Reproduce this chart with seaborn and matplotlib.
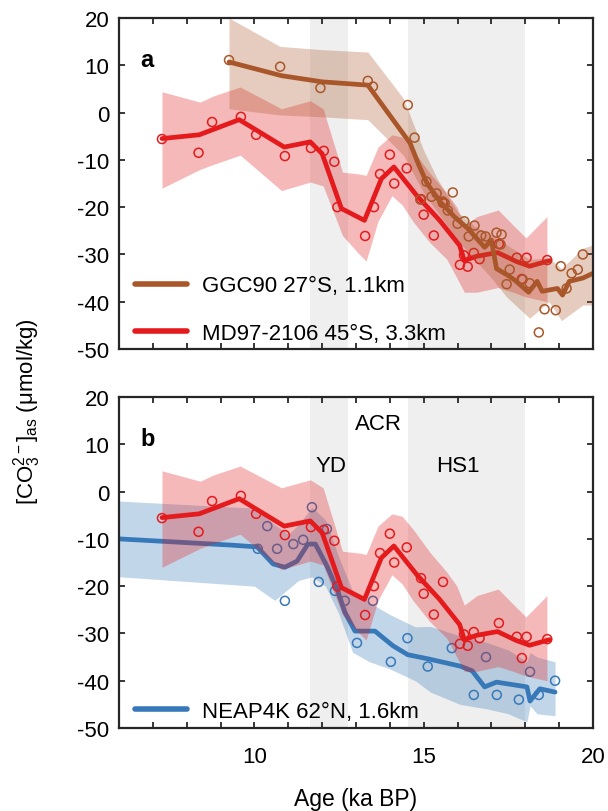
import numpy as np
import pandas as pd
import matplotlib
matplotlib.use("Agg")
import matplotlib.pyplot as plt
from matplotlib.lines import Line2D
from matplotlib.ticker import FixedLocator, MultipleLocator
import seaborn as sns

# ---------------- data ----------------
# GGC90 (27°S, 1.1 km): smoothed curve, uncertainty envelope, measurements
ggc90_line_age = [9.25, 10.8, 12.0, 13.35, 14.6, 14.85, 15.1, 15.5, 15.9, 16.3, 16.8, 17.0,
                  17.15, 17.5, 17.7, 18.1, 18.35, 18.5, 18.95, 19.1, 19.3, 19.7, 20.0]
ggc90_line_val = [10.7, 7.8, 6.5, 5.8, -6.5, -11, -15, -19, -22, -24.5, -28.5, -27,
                  -33, -34.5, -35.5, -38, -35.7, -37.8, -37.2, -38.6, -35.7, -35, -34]
ggc90_band_age = [9.25, 10.75, 12.0, 13.35, 14.4, 15.0, 15.4, 16.0, 16.5, 17.0, 17.45,
                  18.13, 18.7, 19.07, 19.7, 20.0]
ggc90_band_hi = [20, 14, 13.3, 12.8, 3, -8, -14, -21, -24, -26, -28, -31, -30.8, -33, -28.7, -28]
ggc90_band_lo = [0.8, -0.5, -0.9, -1.5, -9, -17, -21, -27, -31, -35, -39, -43.5, -40, -44, -40.7, -40.7]
ggc90_pts_age = [9.25, 10.76, 11.95, 13.35, 13.5, 14.53, 14.73, 14.9, 15.08, 15.23, 15.38,
                 15.56, 15.62, 15.71, 15.86, 16.0, 16.2, 16.33, 16.5, 16.7, 16.83, 17.15,
                 17.3, 17.27, 17.45, 17.54, 17.92, 18.13, 18.4, 18.57, 18.9, 19.05, 19.22,
                 19.37, 19.55, 19.7]
ggc90_pts_val = [11.1, 9.7, 5.2, 6.7, 5.5, 1.6, -5.3, -18.4, -14.6, -17.8, -17.1,
                 -18.8, -19.2, -20.7, -16.9, -23.5, -23, -26.2, -23.9, -26, -26.2, -25.4,
                 -25.8, -27.9, -36.3, -33.2, -35.3, -36.1, -46.5, -41.6, -41.8, -32.5, -37.2,
                 -34, -33.2, -30]

# MD97-2106 (45°S, 3.3 km)
md97_line_age = [7.27, 8.37, 9.55, 10.88, 11.65, 12.0, 12.33, 12.57, 13.25, 13.75, 14.12,
                 14.8, 15.47, 16.06, 16.2, 16.56, 17.18, 17.74, 18.13, 18.72]
md97_line_val = [-5.5, -4.7, -1.5, -7.3, -6.2, -8.7, -15.4, -20.3, -22.8, -14, -11.5,
                 -17.6, -22.8, -28.1, -31.3, -30.4, -29.6, -31.5, -32.5, -31.3]
md97_band_age = [7.27, 8.4, 8.78, 9.58, 10.8, 11.65, 12.03, 12.33, 12.6, 13.1, 13.3, 13.65,
                 14.06, 14.36, 14.68, 15.18, 15.68, 15.98, 16.2, 16.57, 17.2, 17.64, 18.02, 18.64]
md97_band_hi = [4.4, 2.2, 3.5, 5.4, 0.8, 2.5, 0.8, -6.2, -12.6, -13, -13.3, -7.3,
                -4.7, -5.2, -7.9, -12.8, -17, -20, -24, -22, -20.6, -23.8, -26.5, -22]
md97_band_lo = [-16, -12, -11, -9, -16.5, -14.7, -15.5, -21, -26, -30, -31.4, -23,
                -17.6, -19.5, -23, -27.5, -31, -35, -38, -38, -37, -38, -39, -40]
md97_pts_age = [7.27, 8.35, 8.75, 9.6, 10.05, 10.9, 11.67, 12.05, 12.36, 12.45, 13.27, 13.53,
                13.71, 14.0, 14.13, 14.5, 14.92, 15.0, 15.3, 15.57, 16.07, 16.19, 16.3, 16.48,
                16.65, 17.22, 17.75, 17.9, 18.04, 18.65]
md97_pts_val = [-5.6, -8.5, -2, -0.9, -4.7, -9.2, -7.5, -8.1, -10.4, -20, -26.1, -20,
                -13, -8.9, -15, -11.8, -18.3, -21.6, -26, -19.1, -32.2, -30.2, -32.6, -29.7,
                -31, -27.8, -30.7, -35.2, -30.7, -31.2]

# NEAP4K (62°N, 1.6 km)
neap_line_age = [6.0, 9.28, 10.08, 10.55, 10.9, 11.26, 11.58, 11.8, 12.14, 12.44, 12.67,
                 12.97, 13.56, 14.09, 14.53, 15.15, 16.07, 16.43, 16.8, 17.15, 18.05, 18.14,
                 18.43, 18.88]
neap_line_val = [-10, -11.3, -11.7, -15.3, -16, -14.7, -11.1, -11.1, -15.7, -20.6, -25.5,
                 -29.5, -29.5, -32.6, -34.5, -35.4, -36.9, -37.9, -41.3, -40.3, -41.3, -44.3,
                 -41.7, -42.4]
neap_band_age = [6.0, 10.0, 10.6, 11.0, 11.3, 11.7, 12.1, 12.5, 12.9, 13.4, 14.0, 14.75,
                 15.2, 16.07, 16.9, 17.5, 18.05, 18.14, 18.35, 18.88]
neap_band_hi = [-2, -3.5, -7, -9, -7, -3.3, -6, -14, -21, -23.5, -26, -28.6,
                -28.5, -30.5, -32, -33.5, -36, -34, -35, -36]
neap_band_lo = [-18, -20, -23, -20.6, -18.8, -18, -20, -26, -34, -36, -37.5, -40,
                -42.4, -45, -46, -47, -48.7, -45.3, -47, -47.4]
neap_pts_age = [10.1, 10.38, 10.67, 10.9, 11.15, 11.44, 11.7, 11.9, 12.14, 12.38, 12.67,
                13.03, 13.5, 14.03, 14.52, 15.12, 15.83, 16.48, 16.84, 17.16, 17.81, 18.14,
                18.4, 18.88]
neap_pts_val = [-12.1, -7.3, -12.1, -23.1, -11.1, -10.2, -3.3, -19.1, -7.9, -21, -23.1,
                -32, -23.1, -36, -31, -37, -33.1, -43, -35, -43, -44, -38.1,
                -43, -40]

# climate intervals (ka BP)
yd_span = (11.65, 12.75)
hs1_span = (14.55, 18.0)
period_labels = ["YD", "ACR", "HS1"]
period_label_age = [12.27, 13.66, 16.0]
period_label_val = [5.6, 14.5, 5.6]

ggc90_label = "GGC90 27°S, 1.1km"
md97_label = "MD97-2106 45°S, 3.3km"
neap_label = "NEAP4K 62°N, 1.6km"

# ---------------- style ----------------
sns.set_theme(style="ticks")
plt.rcParams["font.family"] = ["Liberation Sans", "DejaVu Sans"]
plt.rcParams["axes.unicode_minus"] = False
plt.rcParams["text.color"] = "black"
plt.rcParams["axes.labelcolor"] = "black"
plt.rcParams["mathtext.fontset"] = "custom"
plt.rcParams["mathtext.rm"] = "Liberation Sans"
plt.rcParams["mathtext.it"] = "Liberation Sans:italic"
plt.rcParams["mathtext.bf"] = "Liberation Sans:bold"

C_BROWN = "#A9572A"
C_RED = "#E41A1C"
C_BLUE = "#3778B8"
C_SPAN = "#EFEFEF"
C_AX = "#262626"
FS = 16
LW = 3.4


def series(age, val):
    return pd.DataFrame({"age": age, "val": val})


def draw_record(ax, line_age, line_val, band_age, band_hi, band_lo, pts_age, pts_val,
                color, zb):
    ax.fill_between(band_age, band_lo, band_hi, color=color, alpha=0.3, lw=0, zorder=zb)
    sns.lineplot(data=series(line_age, line_val), x="age", y="val", ax=ax, sort=False,
                 estimator=None, color=color, lw=LW, zorder=zb + 0.2, legend=False)
    sns.scatterplot(data=series(pts_age, pts_val), x="age", y="val", ax=ax, marker="o",
                    s=42, facecolors="none", edgecolor=color, linewidth=1.1,
                    zorder=zb + 0.1, legend=False)


def style_axes(ax, show_xlabels):
    ax.set_xlim(6, 20)
    ax.set_ylim(-50, 20)
    ax.axvspan(*yd_span, color=C_SPAN, lw=0, zorder=0)
    ax.axvspan(*hs1_span, color=C_SPAN, lw=0, zorder=0)
    ax.xaxis.set_major_locator(FixedLocator([10, 15, 20]))
    ax.xaxis.set_minor_locator(MultipleLocator(1))
    ax.yaxis.set_major_locator(MultipleLocator(10))
    ax.tick_params(which="both", direction="in", top=True, right=True, length=4.5,
                   width=1.3, color=C_AX, labelsize=FS, labelcolor="black")
    ax.tick_params(axis="y", pad=7)
    ax.tick_params(axis="x", pad=13)
    if not show_xlabels:
        ax.tick_params(axis="x", labelbottom=False)
    for sp in ax.spines.values():
        sp.set_visible(True)
        sp.set_linewidth(1.6)
        sp.set_color(C_AX)
        sp.set_zorder(10)
    ax.set_xlabel("")
    ax.set_ylabel("")


fig = plt.figure(figsize=(6.08, 8.12), dpi=100)
ax_a = fig.add_axes([0.1957, 0.569, 0.7796, 0.4076])
ax_b = fig.add_axes([0.1957, 0.1022, 0.7796, 0.4076])

# panel a
draw_record(ax_a, md97_line_age, md97_line_val, md97_band_age, md97_band_hi, md97_band_lo,
            md97_pts_age, md97_pts_val, C_RED, 2)
draw_record(ax_a, ggc90_line_age, ggc90_line_val, ggc90_band_age, ggc90_band_hi, ggc90_band_lo,
            ggc90_pts_age, ggc90_pts_val, C_BROWN, 3)
style_axes(ax_a, False)
ax_a.text(0.045, 0.875, "a", transform=ax_a.transAxes, fontsize=FS + 1, fontweight="bold",
          ha="left", va="center")
handles_a = [Line2D([], [], color=C_BROWN, lw=LW + 0.6), Line2D([], [], color=C_RED, lw=LW + 0.6)]
ax_a.legend(handles_a, [ggc90_label, md97_label], loc="lower left", frameon=False,
            fontsize=FS, handlelength=2.3, handletextpad=0.7, labelspacing=1.2,
            borderaxespad=0.0, bbox_to_anchor=(0.016, -0.012))

# panel b
draw_record(ax_b, neap_line_age, neap_line_val, neap_band_age, neap_band_hi, neap_band_lo,
            neap_pts_age, neap_pts_val, C_BLUE, 2)
draw_record(ax_b, md97_line_age, md97_line_val, md97_band_age, md97_band_hi, md97_band_lo,
            md97_pts_age, md97_pts_val, C_RED, 3)
style_axes(ax_b, True)
ax_b.text(0.045, 0.875, "b", transform=ax_b.transAxes, fontsize=FS + 1, fontweight="bold",
          ha="left", va="center")
for lab, xa, yv in zip(period_labels, period_label_age, period_label_val):
    ax_b.text(xa, yv, lab, fontsize=FS, ha="center", va="center", zorder=6)
ax_b.legend([Line2D([], [], color=C_BLUE, lw=LW + 0.6)], [neap_label], loc="lower left",
            frameon=False, fontsize=FS, handlelength=2.3, handletextpad=0.7,
            borderaxespad=0.0, bbox_to_anchor=(0.016, -0.008))
ax_b.set_xlabel("Age (ka BP)", fontsize=FS + 0.5, labelpad=14)

fig.text(0.045, 0.493, r"$\mathregular{[CO_3^{2-}]_{as}}$ (μmol/kg)", rotation=90,
         fontsize=FS, ha="center", va="center")

fig.savefig("out.png", dpi=100)
